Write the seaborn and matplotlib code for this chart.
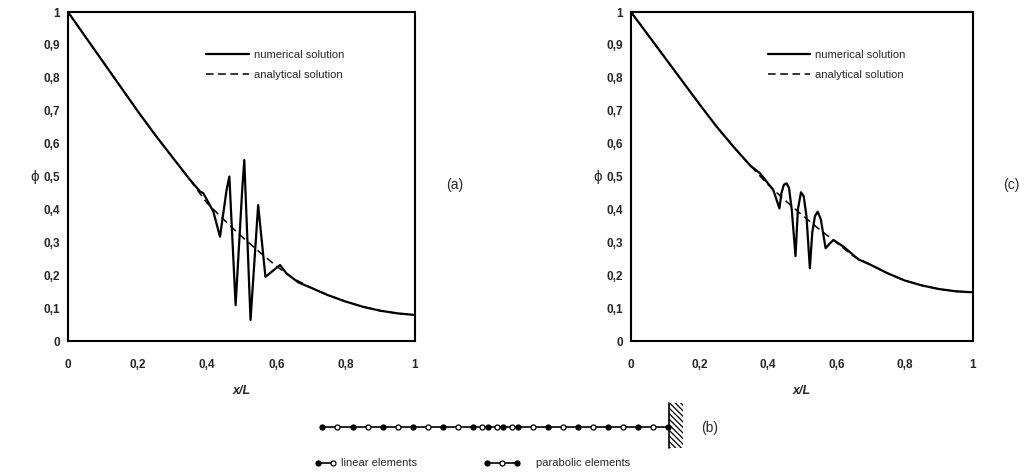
import numpy as np
import matplotlib
matplotlib.use("Agg")
import matplotlib.pyplot as plt
import matplotlib.patches as mpatches
import seaborn as sns

# analytical solution, both panels
x_ana = [0, 0.05, 0.1, 0.15, 0.2, 0.25, 0.3, 0.35, 0.4, 0.45, 0.5,
         0.55, 0.6, 0.65, 0.7, 0.75, 0.8, 0.85, 0.9, 0.95, 1.0]
ana_a = [1.0, 0.925, 0.85, 0.775, 0.70, 0.628, 0.56, 0.492, 0.42, 0.368, 0.318,
         0.272, 0.228, 0.19, 0.162, 0.139, 0.12, 0.104, 0.092, 0.084, 0.079]
ana_c = [1.0, 0.93, 0.86, 0.79, 0.72, 0.652, 0.59, 0.532, 0.476, 0.428, 0.383,
         0.34, 0.30, 0.258, 0.232, 0.206, 0.184, 0.169, 0.158, 0.151, 0.148]

# numerical solution, linear elements (a)
x_num_a = [0, 0.05, 0.1, 0.15, 0.2, 0.25, 0.3, 0.35, 0.38, 0.39, 0.40, 0.419,
           0.438, 0.457, 0.465, 0.483, 0.502, 0.508, 0.526, 0.548, 0.569, 0.611,
           0.63, 0.664, 0.7, 0.75, 0.8, 0.85, 0.9, 0.95, 1.0]
num_a = [1.0, 0.925, 0.85, 0.775, 0.70, 0.628, 0.56, 0.492, 0.455, 0.449, 0.43, 0.393,
         0.317, 0.459, 0.50, 0.109, 0.459, 0.55, 0.064, 0.413, 0.195, 0.231,
         0.205, 0.178, 0.162, 0.139, 0.12, 0.104, 0.092, 0.084, 0.079]

# numerical solution, parabolic elements (c)
x_num_c = [0, 0.05, 0.1, 0.15, 0.2, 0.25, 0.3, 0.35, 0.377, 0.416, 0.434, 0.44,
           0.447, 0.455, 0.462, 0.47, 0.481, 0.488, 0.497, 0.505, 0.513, 0.523,
           0.53, 0.538, 0.546, 0.555, 0.569, 0.58, 0.592, 0.621, 0.665, 0.7,
           0.75, 0.8, 0.85, 0.9, 0.95, 1.0]
num_c = [1.0, 0.93, 0.86, 0.79, 0.72, 0.652, 0.59, 0.532, 0.51, 0.459, 0.403, 0.45,
         0.475, 0.479, 0.465, 0.40, 0.258, 0.40, 0.452, 0.44, 0.38, 0.221,
         0.33, 0.38, 0.393, 0.37, 0.282, 0.295, 0.307, 0.287, 0.248, 0.232,
         0.206, 0.184, 0.169, 0.158, 0.151, 0.148]

y_ticks = [0, 0.1, 0.2, 0.3, 0.4, 0.5, 0.6, 0.7, 0.8, 0.9, 1]
y_tick_labels = ["0", "0,1", "0,2", "0,3", "0,4", "0,5", "0,6", "0,7", "0,8", "0,9", "1"]
x_ticks = [0, 0.2, 0.4, 0.6, 0.8, 1]
x_tick_labels = ["0", "0,2", "0,4", "0,6", "0,8", "1"]

# mesh nodes along the bar (b), 0 = free end, 1 = wall
mesh_nodes = [0, 0.043, 0.091, 0.134, 0.178, 0.221, 0.264, 0.308, 0.351, 0.394,
              0.437, 0.462, 0.481, 0.505, 0.524, 0.548, 0.567, 0.611, 0.654,
              0.697, 0.740, 0.784, 0.827, 0.870, 0.913, 0.957, 1.0]

sns.set_style("white")
plt.rcParams["font.family"] = ["Liberation Sans", "DejaVu Sans"]
plt.rcParams["xtick.direction"] = "in"
plt.rcParams["ytick.direction"] = "in"
plt.rcParams["hatch.linewidth"] = 0.9

W, H = 1031, 473
fig = plt.figure(figsize=(W / 100, H / 100), dpi=100)


def px_box(x0, x1, y0, y1):
    return [x0 / W, 1 - y1 / H, (x1 - x0) / W, (y1 - y0) / H]


def panel(box, xn, yn, ya):
    ax = fig.add_axes(box)
    sns.lineplot(x=xn, y=yn, ax=ax, color="black", lw=1.6, sort=False,
                 estimator=None, label="numerical solution")
    sns.lineplot(x=x_ana, y=ya, ax=ax, color="black", lw=1.1, sort=False,
                 estimator=None, label="analytical solution")
    ax.lines[1].set_dashes([5, 3])
    ax.set_xlim(0, 1)
    ax.set_ylim(0, 1)
    ax.set_xticks(x_ticks)
    ax.set_xticklabels(x_tick_labels, fontsize=8.5, fontweight="bold")
    ax.set_yticks(y_ticks)
    ax.set_yticklabels(y_tick_labels, fontsize=8.5, fontweight="bold")
    ax.tick_params(length=4, width=1)
    ax.tick_params(axis="x", pad=13)
    ax.tick_params(axis="y", pad=6)
    for s in ax.spines.values():
        s.set_linewidth(1.5)
        s.set_color("black")
    ax.set_xlabel("x/L", fontsize=9, fontstyle="italic", fontweight="bold", labelpad=10)
    ax.set_ylabel("ϕ", fontsize=11, rotation=0, labelpad=6, va="center")
    ax.legend(frameon=False, loc="upper left", bbox_to_anchor=(0.37, 0.915),
              fontsize=8, handlelength=3.8, handletextpad=0.5, labelspacing=0.9)
    return ax


ax_a = panel(px_box(68, 415, 12, 341), x_num_a, num_a, ana_a)
ax_c = panel(px_box(631, 973, 12, 341), x_num_c, num_c, ana_c)

fig.text(455 / W, 1 - 185 / H, "(a)", fontsize=10, ha="center", va="center")
fig.text(1011 / W, 1 - 185 / H, "(c)", fontsize=10, ha="center", va="center")

# element mesh sketch (b)
ax_b = fig.add_axes([0, 0, 1, 1])
ax_b.set_xlim(0, W)
ax_b.set_ylim(H, 0)
ax_b.axis("off")
bx0, bx1, by = 321.7, 668.3, 426.7
node_x = [bx0 + s * (bx1 - bx0) for s in mesh_nodes]
ax_b.plot([bx0, bx1], [by, by], color="black", lw=1.2)
for i, nx in enumerate(node_x):
    face = "black" if i % 2 == 0 else "white"
    ax_b.plot(nx, by, "o", ms=3.6, mfc=face, mec="black", mew=0.9)
ax_b.add_patch(mpatches.Rectangle((668.5, 403), 14, 45, fill=False,
                                  hatch="\\\\\\\\\\\\", lw=0, edgecolor="black"))
ax_b.plot([668.5, 668.5], [403, 448], color="black", lw=1.2)
fig.text(710 / W, 1 - 428 / H, "(b)", fontsize=10, ha="center", va="center")

ly = 463
ax_b.plot([318, 333], [ly, ly], color="black", lw=1.2)
ax_b.plot(318, ly, "o", ms=3.6, mfc="black", mec="black", mew=0.9)
ax_b.plot(333, ly, "o", ms=3.6, mfc="white", mec="black", mew=0.9)
ax_b.text(341, ly, "linear elements", fontsize=8, va="center")
ax_b.plot([487, 517], [ly, ly], color="black", lw=1.2)
ax_b.plot([487, 517], [ly, ly], "o", ms=3.6, mfc="black", mec="black", mew=0.9)
ax_b.plot(502, ly, "o", ms=3.6, mfc="white", mec="black", mew=0.9)
ax_b.text(536, ly, "parabolic elements", fontsize=8, va="center")

fig.savefig("out.png", dpi=100)
